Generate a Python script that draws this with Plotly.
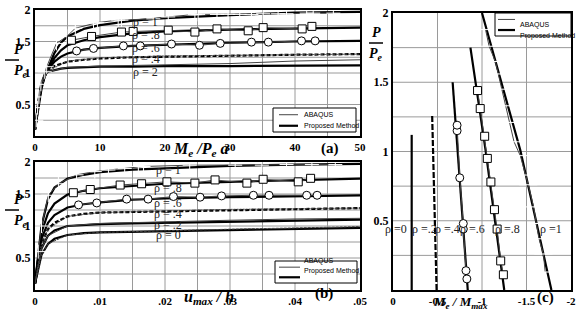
import plotly.graph_objects as go

# ---------------- panel (a) : P/Pe vs Me/(Pe a) ----------------
a_x = [0, 0.5, 1, 1.5, 2, 3, 4, 5, 7.5, 10, 15, 20, 30, 40, 50]
a_pm_r1 = [0.10, 0.45, 0.75, 0.95, 1.08, 1.32, 1.48, 1.58, 1.70, 1.76, 1.83, 1.87, 1.92, 1.96, 1.97]
a_pm_r08 = [0.10, 0.50, 0.78, 0.95, 1.06, 1.24, 1.36, 1.44, 1.52, 1.57, 1.63, 1.66, 1.69, 1.71, 1.72]
a_pm_r06 = [0.10, 0.50, 0.80, 0.95, 1.05, 1.18, 1.26, 1.31, 1.37, 1.40, 1.43, 1.45, 1.48, 1.50, 1.51]
a_pm_r04 = [0.10, 0.50, 0.82, 0.96, 1.04, 1.11, 1.15, 1.18, 1.21, 1.23, 1.25, 1.26, 1.28, 1.29, 1.30]
a_pm_r02 = [0.10, 0.55, 0.85, 0.97, 1.02, 1.05, 1.07, 1.08, 1.09, 1.10, 1.10, 1.11, 1.11, 1.12, 1.12]

a_ab_r1_x = [0.2, 0.4, 0.6, 0.9, 1.5, 1.8, 3.3, 4.9, 6.2, 9.0, 9.6, 12.8, 13.3, 18.2, 20.5, 24.6, 25.1,
             28.0, 29.7, 31.5, 33.3, 35.1, 37.4, 38.7, 41.8, 42.8, 45.9]
a_ab_r1_y = [0.25, 0.45, 0.62, 0.82, 1.02, 1.10, 1.47, 1.58, 1.71, 1.79, 1.80, 1.84, 1.84, 1.86, 1.89, 1.93, 1.93,
             1.93, 1.93, 1.93, 1.93, 1.94, 1.94, 1.94, 1.95, 1.95, 1.95]
a_ab_r08_x = [5.6, 8.7, 13.3, 15.1, 20.5, 24.6, 28.0, 32.8, 35.1, 41.1, 42.6]
a_ab_r08_y = [1.52, 1.58, 1.65, 1.66, 1.68, 1.65, 1.70, 1.67, 1.72, 1.70, 1.74]
a_ab_r06_x = [6.4, 9.0, 13.6, 16.2, 21.0, 25.3, 28.5, 33.3, 35.9, 41.0, 43.1]
a_ab_r06_y = [1.35, 1.39, 1.43, 1.43, 1.46, 1.44, 1.47, 1.49, 1.49, 1.51, 1.51]
a_ab_x = [0, 1, 2, 5, 10, 20, 30, 40, 50]
a_ab_r04_y = [0.10, 0.80, 1.03, 1.19, 1.24, 1.27, 1.28, 1.29, 1.30]
a_ab_r02_y = [0.10, 0.85, 1.02, 1.09, 1.11, 1.13, 1.15, 1.19, 1.21]

# ---------------- panel (b) : P/Pe vs umax/h ----------------
b_u = [0, 0.0005, 0.001, 0.002, 0.003, 0.005, 0.0075, 0.01, 0.015, 0.02, 0.03, 0.04, 0.05]
b_pm_r1 = [0.10, 0.60, 1.00, 1.42, 1.60, 1.74, 1.80, 1.84, 1.88, 1.90, 1.94, 1.96, 1.97]
b_pm_r08 = [0.10, 0.55, 0.90, 1.20, 1.35, 1.49, 1.55, 1.59, 1.63, 1.66, 1.69, 1.72, 1.74]
b_pm_r06 = [0.10, 0.50, 0.80, 1.05, 1.17, 1.29, 1.34, 1.37, 1.41, 1.43, 1.45, 1.47, 1.48]
b_pm_r04 = [0.10, 0.45, 0.72, 0.95, 1.05, 1.15, 1.19, 1.21, 1.22, 1.23, 1.25, 1.27, 1.28]
b_pm_r02 = [0.10, 0.40, 0.65, 0.85, 0.93, 1.00, 1.02, 1.03, 1.04, 1.05, 1.07, 1.09, 1.10]
b_pm_r0 = [0.10, 0.35, 0.55, 0.72, 0.80, 0.86, 0.89, 0.90, 0.91, 0.92, 0.94, 0.96, 0.97]

b_ab_r1_x = [0.0005, 0.001, 0.00205, 0.0036, 0.0064, 0.0092, 0.0113, 0.0138, 0.0159, 0.0167, 0.0238,
             0.0308, 0.0349, 0.0387, 0.0426, 0.0462]
b_ab_r1_y = [0.60, 1.00, 1.48, 1.66, 1.80, 1.85, 1.875, 1.90, 1.93, 1.93, 1.95, 1.95, 1.95, 1.96, 1.96, 1.96]
b_ab_r08_x = [0.0059, 0.0085, 0.0131, 0.0164, 0.0203, 0.0246, 0.0277, 0.0326, 0.0351, 0.0405, 0.0424]
b_ab_r08_y = [1.52, 1.57, 1.64, 1.66, 1.69, 1.67, 1.72, 1.67, 1.73, 1.69, 1.745]
b_ab_r06_x = [0.0067, 0.0095, 0.0141, 0.0174, 0.0213, 0.0254, 0.0287, 0.0336, 0.0360, 0.0418, 0.0434]
b_ab_r06_y = [1.33, 1.36, 1.42, 1.42, 1.46, 1.45, 1.47, 1.48, 1.48, 1.48, 1.48]
b_ab_x = [0, 0.001, 0.002, 0.005, 0.01, 0.02, 0.03, 0.04, 0.05]
b_ab_r04_y = [0.10, 0.72, 0.95, 1.15, 1.21, 1.24, 1.26, 1.27, 1.28]
b_ab_r02_y = [0.10, 0.65, 0.85, 1.00, 1.04, 1.07, 1.09, 1.11, 1.12]
b_ab_r0_y = [0.10, 0.55, 0.72, 0.86, 0.90, 0.93, 0.95, 0.97, 0.99]

# ---------------- panel (c) : P/Pe vs Me/Mmax ----------------
c_pm_a_x = [-0.21, -0.21]
c_pm_a_y = [0.0, 1.12]
c_pm_b_x = [-0.49, -0.44]
c_pm_b_y = [0.0, 1.26]
c_pm_c_x = [-0.84, -0.73, -0.67]
c_pm_c_y = [0.0, 1.01, 1.50]
c_pm_d_x = [-1.25, -1.04, -0.87]
c_pm_d_y = [0.0, 1.01, 1.75]
c_pm_e_x = [-1.78, -1.43, -1.00]
c_pm_e_y = [0.0, 1.01, 2.00]

c_ab_c_x = [-0.83, -0.82, -0.79, -0.79, -0.75, -0.72, -0.72]
c_ab_c_y = [0.08, 0.14, 0.44, 0.48, 0.81, 1.15, 1.19]
c_ab_d_x = [-1.24, -1.21, -1.17, -1.14, -1.10, -1.06, -1.03, -0.98, -0.95]
c_ab_d_y = [0.11, 0.21, 0.44, 0.58, 0.78, 0.95, 1.11, 1.31, 1.44]
c_ab_e_x = [-1.71, -1.69, -1.64, -1.61, -1.58, -1.52, -1.49, -1.43, -1.36, -1.31, -1.27, -1.23, -1.19,
            -1.15, -1.08, -1.04]
c_ab_e_y = [0.13, 0.26, 0.37, 0.48, 0.60, 0.76, 0.83, 0.97, 1.07, 1.21, 1.33, 1.45, 1.56, 1.65, 1.76, 1.88]

rho_labels_a = ["ρ = 1", "ρ = .8", "ρ = .6", "ρ = .4", "ρ = 2"]
rho_labels_b = ["ρ = 1", "ρ = .8", "ρ = .6", "ρ = .4", "ρ = .2", "ρ = 0"]
rho_labels_c = ["ρ =0", "ρ =.2", "ρ =.4", "ρ =.6", "ρ =.8", "ρ =1"]
legend_names = ["ABAQUS", "Proposed Method"]

# tick / grid positions
y_major = [0.5, 1.0, 1.5, 2.0]
y_major_text = ["0.5", "1", "1.5", "2"]
y_grid = [0.25, 0.5, 0.75, 1.0, 1.25, 1.5, 1.75]
ax_a_x = [0, 10, 20, 30, 40, 50]
ax_a_t = ["0", "10", "20", "30", "40", "50"]
ax_a_grid = [5, 10, 15, 20, 25, 30, 35, 40, 45]
ax_b_x = [0, 0.01, 0.02, 0.03, 0.04, 0.05]
ax_b_t = ["0", ".01", ".02", ".03", ".04", ".05"]
ax_b_grid = [0.005, 0.01, 0.015, 0.02, 0.025, 0.03, 0.035, 0.04, 0.045]
ax_c_x = [0, -0.5, -1, -1.5, -2]
ax_c_t = ["0", "-0.5", "-1", "-1.5", "-2"]
ax_c_grid = [-0.5, -1.0, -1.5]

# ---------------- styling ----------------
THICK = 2.2
THIN = 1.0
BLK = "black"
GRAY = "#444444"
GRID = "#9a9a9a"
SERIF = "Liberation Serif"
SANS = "Liberation Sans"

fig = go.Figure()


def pm(x, y, xa, ya, dash="solid"):
    fig.add_trace(go.Scatter(x=x, y=y, mode="lines", xaxis=xa, yaxis=ya, showlegend=False,
                             line=dict(color=BLK, width=THICK, dash=dash)))


def ab(x, y, xa, ya, symbol=None, size=8, dash="solid"):
    mode = "lines+markers" if symbol else "lines"
    fig.add_trace(go.Scatter(x=x, y=y, mode=mode, xaxis=xa, yaxis=ya, showlegend=False,
                             line=dict(color=GRAY, width=THIN, dash=dash),
                             marker=dict(symbol=symbol or "circle", size=size, color="white",
                                         line=dict(color=BLK, width=1))))


# panel (a)
pm(a_x, a_pm_r1, "x", "y")
pm(a_x, a_pm_r08, "x", "y")
pm(a_x, a_pm_r06, "x", "y")
pm(a_x, a_pm_r04, "x", "y", dash="4px,2px")
pm(a_x, a_pm_r02, "x", "y")
ab(a_ab_x, a_ab_r04_y, "x", "y", dash="2px,1px")
ab(a_ab_x, a_ab_r02_y, "x", "y")
ab(a_ab_r1_x, a_ab_r1_y, "x", "y", symbol="cross-thin-open", size=10)
ab(a_ab_r08_x, a_ab_r08_y, "x", "y", symbol="square", size=8)
ab(a_ab_r06_x, a_ab_r06_y, "x", "y", symbol="circle", size=8)

# panel (b)
pm(b_u, b_pm_r1, "x2", "y2")
pm(b_u, b_pm_r08, "x2", "y2")
pm(b_u, b_pm_r06, "x2", "y2")
pm(b_u, b_pm_r04, "x2", "y2", dash="4px,2px")
pm(b_u, b_pm_r02, "x2", "y2")
pm(b_u, b_pm_r0, "x2", "y2")
ab(b_ab_x, b_ab_r04_y, "x2", "y2", dash="2px,1px")
ab(b_ab_x, b_ab_r02_y, "x2", "y2")
ab(b_ab_x, b_ab_r0_y, "x2", "y2", dash="3px,1px")
ab(b_ab_r1_x, b_ab_r1_y, "x2", "y2", symbol="cross-thin-open", size=10)
ab(b_ab_r08_x, b_ab_r08_y, "x2", "y2", symbol="square", size=8)
ab(b_ab_r06_x, b_ab_r06_y, "x2", "y2", symbol="circle", size=8)

# panel (c)
pm(c_pm_a_x, c_pm_a_y, "x3", "y3")
pm(c_pm_b_x, c_pm_b_y, "x3", "y3", dash="6px,2px")
pm(c_pm_c_x, c_pm_c_y, "x3", "y3")
pm(c_pm_d_x, c_pm_d_y, "x3", "y3")
pm(c_pm_e_x, c_pm_e_y, "x3", "y3")
ab(c_ab_c_x, c_ab_c_y, "x3", "y3", symbol="circle", size=8)
ab(c_ab_d_x, c_ab_d_y, "x3", "y3", symbol="square", size=8)
ab(c_ab_e_x, c_ab_e_y, "x3", "y3", symbol="line-ew-open", size=13)

W, H = 580, 317


def px_x(p):
    return p / W


def px_y(p):
    return 1 - p / H


def bold(lst):
    return ["<b>%s</b>" % t for t in lst]


tickfont = dict(family=SERIF, size=12, color=BLK)
axis_common = dict(showline=True, mirror=True, linecolor=BLK, linewidth=2, showgrid=False,
                   zeroline=False, ticks="", ticklen=0, tickfont=tickfont, tickmode="array")

fig.update_layout(
    template="none",
    width=W, height=H, margin=dict(l=0, r=0, t=0, b=0),
    paper_bgcolor="white", plot_bgcolor="white", showlegend=False,
    xaxis=dict(domain=[px_x(35), px_x(360)], range=[0, 50], anchor="y",
               tickvals=ax_a_x, ticktext=bold(ax_a_t), **axis_common),
    yaxis=dict(domain=[px_y(136), px_y(10)], range=[0, 2], anchor="x",
               tickvals=y_major, ticktext=bold(y_major_text), **axis_common),
    xaxis2=dict(domain=[px_x(35), px_x(360)], range=[0, 0.05], anchor="y2",
                tickvals=ax_b_x, ticktext=bold(ax_b_t), **axis_common),
    yaxis2=dict(domain=[px_y(290), px_y(162)], range=[0, 2], anchor="x2",
                tickvals=y_major, ticktext=bold(y_major_text), **axis_common),
    xaxis3=dict(domain=[px_x(393), px_x(571)], range=[0, -2], anchor="y3",
                tickvals=ax_c_x, ticktext=bold(ax_c_t), **axis_common),
    yaxis3=dict(domain=[px_y(290), px_y(13)], range=[0, 2], anchor="x3",
                tickvals=y_major, ticktext=bold(y_major_text), **axis_common),
)
fig.update_xaxes(tickfont_size=11)

shapes = []
# grid lines (drawn beneath the traces)
for xa, ya, xg in [("x", "y", ax_a_grid), ("x2", "y2", ax_b_grid), ("x3", "y3", ax_c_grid)]:
    for v in xg:
        shapes.append(dict(type="line", xref=xa, yref=ya + " domain", x0=v, x1=v, y0=0, y1=1,
                           line=dict(color=GRID, width=1), layer="below"))
    for v in y_grid:
        shapes.append(dict(type="line", xref=xa + " domain", yref=ya, x0=0, x1=1, y0=v, y1=v,
                           line=dict(color=GRID, width=1), layer="below"))

ann = []
rho_font = dict(family=SERIF, size=12, color="#222222")
for txt, yv in zip(rho_labels_a, [1.81, 1.60, 1.40, 1.22, 1.02]):
    ann.append(dict(x=17, y=yv, xref="x", yref="y", text=txt, showarrow=False, font=rho_font))
for txt, yv in zip(rho_labels_b, [1.875, 1.59, 1.36, 1.19, 1.02, 0.86]):
    ann.append(dict(x=0.0205, y=yv, xref="x2", yref="y2", text=txt, showarrow=False, font=rho_font))
for txt, xv in zip(rho_labels_c, [-0.03, -0.35, -0.61, -0.89, -1.29, -1.78]):
    ann.append(dict(x=xv, y=0.44, xref="x3", yref="y3", text=txt, showarrow=False, font=rho_font))

title_font = dict(family=SERIF, size=16, color=BLK)
lab_font = dict(family=SERIF, size=15, color=BLK)
ann += [
    dict(x=px_x(200), y=px_y(150), xref="paper", yref="paper", showarrow=False, font=title_font,
         text="<b><i>M<sub>e</sub> /P<sub>e</sub> a</i></b>"),
    dict(x=px_x(330), y=px_y(148), xref="paper", yref="paper", showarrow=False, font=lab_font,
         text="<b>(a)</b>"),
    dict(x=px_x(182), y=px_y(309), xref="paper", yref="paper", showarrow=False, font=title_font,
         text="<b><i>u<sub>max</sub> / h</i></b>"),
    dict(x=px_x(324), y=px_y(304), xref="paper", yref="paper", showarrow=False, font=lab_font,
         text="<b>(b)</b>"),
    dict(x=px_x(490), y=px_y(313), xref="paper", yref="paper", showarrow=False,
         font=dict(family=SERIF, size=13, color=BLK),
         text="<b><i>M<sub>e</sub> / M<sub>max</sub></i></b>"),
    dict(x=px_x(556), y=px_y(308), xref="paper", yref="paper", showarrow=False, font=lab_font,
         text="<b>(c)</b>"),
]

# P / Pe fraction labels
frac_font = dict(family=SERIF, size=14, color=BLK)
for cx, ybar in [(12, 60), (12, 210), (376, 43)]:
    ann.append(dict(x=px_x(cx), y=px_y(ybar - 1), xref="paper", yref="paper", showarrow=False,
                    yanchor="bottom", font=frac_font, text="<b><i>P</i></b>"))
    ann.append(dict(x=px_x(cx), y=px_y(ybar + 1), xref="paper", yref="paper", showarrow=False,
                    yanchor="top", font=frac_font, text="<b><i>P<sub>e</sub></i></b>"))
    shapes.append(dict(type="line", xref="paper", yref="paper", x0=px_x(cx - 7), x1=px_x(cx + 7),
                       y0=px_y(ybar), y1=px_y(ybar), line=dict(color=BLK, width=1.5)))

# legend boxes (drawn as shapes + text)
leg_font = dict(family=SANS, size=7, color=BLK)
for (x0, x1, y0, y1, lx0, lx1, tx) in [(273, 356, 108, 132, 279, 298, 302),
                                       (275, 357, 261, 283, 279, 300, 302),
                                       (495, 571, 13, 36, 498, 515, 518)]:
    shapes.append(dict(type="rect", xref="paper", yref="paper", x0=px_x(x0), x1=px_x(x1),
                       y0=px_y(y1), y1=px_y(y0), line=dict(color=BLK, width=1), fillcolor="white",
                       layer="above"))
    rows = [y0 + (y1 - y0) * 0.28, y0 + (y1 - y0) * 0.74]
    for name, ry, w, c in zip(legend_names, rows, [THIN, THICK], [GRAY, BLK]):
        shapes.append(dict(type="line", xref="paper", yref="paper", x0=px_x(lx0), x1=px_x(lx1),
                           y0=px_y(ry), y1=px_y(ry), line=dict(color=c, width=w), layer="above"))
        ann.append(dict(x=px_x(tx), y=px_y(ry), xref="paper", yref="paper", showarrow=False,
                        xanchor="left", text=name, font=leg_font))

fig.update_layout(annotations=ann, shapes=shapes)

fig.write_html("out.html", config={"displayModeBar": False},
               post_script="document.body.style.margin='0';")
